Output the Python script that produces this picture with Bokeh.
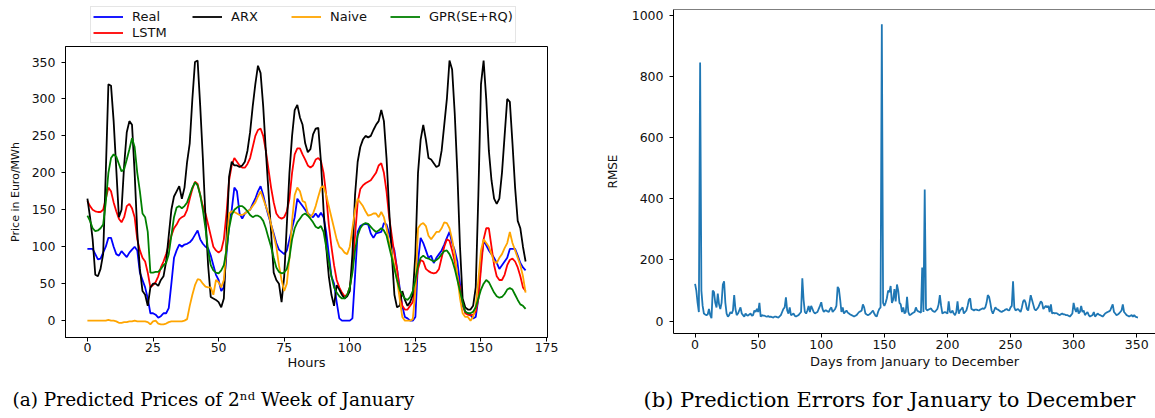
from bokeh.plotting import figure
from bokeh.models import Legend, LegendItem, Range1d, FixedTicker, Span, Label
from bokeh.layouts import row, column
from bokeh.embed import file_html
from bokeh.resources import INLINE

# ---------------- data: (a) hourly prices, 2nd week of January ----------------
hours = list(range(168))

real = [97, 97, 97, 90, 83, 84, 92, 100, 112, 112,
        100, 90, 88, 94, 90, 86, 92, 96, 100, 95,
        65, 55, 45, 30, 10, 10, 8, 4, 6, 10,
        10, 17, 50, 85, 95, 103, 100, 103, 104, 106,
        110, 116, 122, 110, 104, 100, 98, 88, 75, 62,
        55, 40, 45, 90, 130, 150, 180, 175, 145, 138,
        145, 148, 150, 158, 165, 175, 182, 170, 155, 142,
        130, 118, 105, 96, 93, 90, 95, 110, 125, 140,
        165, 160, 155, 150, 145, 142, 140, 145, 140, 146,
        140, 120, 90, 60, 50, 25, 3, 0, 0, 0,
        0, 3, 60, 120, 128, 130, 131, 130, 118, 112,
        118, 119, 120, 132, 130, 118, 105, 95, 70, 45,
        20, 5, 3, 0, 0, 5, 80, 112, 105, 95,
        85, 88, 78, 85, 90, 95, 103, 112, 120, 105,
        95, 80, 50, 20, 12, 10, 8, 3, 5, 30,
        80, 108, 102, 95, 90, 85, 78, 70, 75, 80,
        85, 97, 97, 97, 88, 78, 72, 68]

lstm = [162, 155, 150, 148, 147, 147, 150, 165, 180, 175,
        160, 148, 138, 133, 140, 155, 158, 152, 140, 110,
        95, 85, 80, 65, 45, 48, 52, 60, 72, 80,
        90, 102, 115, 125, 130, 137, 140, 142, 150, 165,
        178, 188, 185, 170, 155, 145, 130, 115, 100, 95,
        92, 95, 110, 145, 190, 210, 220, 215, 210, 207,
        207, 212, 220, 235, 250, 258, 260, 250, 230, 205,
        180, 160, 145, 140, 138, 140, 148, 165, 200, 225,
        233, 233, 225, 218, 210, 207, 210, 218, 220, 216,
        200, 170, 130, 100, 75, 55, 45, 38, 33, 35,
        45, 70, 115, 160, 178, 183, 186, 188, 190, 195,
        200, 210, 213, 200, 175, 140, 115, 90, 70, 40,
        20, 15, 15, 20, 25, 45, 70, 82, 80, 70,
        67, 65, 64, 65, 70, 85, 100, 110, 108, 95,
        80, 60, 45, 25, 10, 8, 7, 8, 12, 30,
        70, 110, 125, 125, 100, 75, 60, 55, 55, 62,
        75, 82, 84, 80, 72, 60, 45, 40]

arx = [165, 140, 110, 62, 60, 70, 90, 200, 320, 318,
       270, 205, 140, 150, 210, 255, 270, 265, 200, 120,
       70, 40, 35, 20, 45, 50, 50, 47, 55, 60,
       80, 115, 150, 168, 175, 182, 165, 180, 215, 240,
       300, 350, 352, 290, 220, 140, 75, 32, 30, 28,
       25, 18, 30, 110, 195, 215, 210, 210, 208, 210,
       215, 230, 255, 290, 320, 345, 335, 290, 230, 175,
       120, 65, 55, 50, 25, 60, 130, 200, 250, 285,
       292, 275, 265, 240, 228, 232, 252, 260, 261, 215,
       150, 100, 60, 35, 20, 48, 42, 35, 30, 33,
       40, 90, 170, 215, 235, 245, 250, 248, 250, 258,
       265, 270, 285, 270, 220, 150, 90, 35, 18, 20,
       40, 28, 20, 25, 35, 90, 200, 245, 265, 245,
       220, 218, 213, 208, 210, 230, 265, 300, 352, 340,
       280, 200, 100, 30, 18, 15, 15, 20, 45, 170,
       320, 352, 300, 230, 190, 165, 158, 165, 200, 250,
       300, 296, 240, 180, 135, 125, 100, 80]

naive = [0, 0, 0, 0, 0, 0, 0, 0, 1, 0,
         0, -1, -3, -3, -2, -2, -1, -1, 0, -1,
         -1, -1, -1, -2, -5, -1, 0, -4, -5, -5,
         -4, -2, -1, -1, -1, -1, -1, 0, 2, 20,
         35, 48, 56, 55, 50, 46, 45, 45, 35, 55,
         52, 45, 55, 100, 145, 148, 147, 145, 143, 143,
         145, 148, 150, 155, 160, 168, 175, 165, 155, 145,
         130, 115, 100, 75, 55, 40, 50, 85, 135, 170,
         180, 175, 162, 160, 145, 140, 145, 155, 168, 180,
         182, 170, 155, 140, 125, 110, 100, 97, 92, 90,
         100, 125, 150, 165, 160, 155, 148, 142, 143, 145,
         145, 140, 147, 140, 125, 105, 90, 75, 55, 30,
         5, 0, 0, 0, 2, 40, 125, 130, 132, 128,
         115, 110, 115, 120, 120, 125, 133, 132, 125, 110,
         90, 60, 30, 10, 5, 5, 0, 5, 20, 55,
         95, 110, 105, 100, 90, 80, 78, 85, 90, 98,
         105, 120, 105, 95, 85, 75, 60, 38]

gpr = [142, 135, 125, 121, 122, 125, 130, 160, 200, 220,
       225, 222, 212, 202, 205, 218, 232, 247, 235, 200,
       175, 145, 140, 120, 65, 65, 66, 66, 70, 75,
       78, 90, 115, 140, 153, 155, 152, 155, 160, 170,
       180, 187, 183, 170, 150, 125, 95, 75, 68, 65,
       64, 68, 75, 95, 125, 143, 150, 153, 155, 155,
       152, 148, 143, 140, 142, 142, 140, 135, 125, 112,
       100, 85, 72, 66, 64, 65, 70, 85, 110, 125,
       133, 138, 143, 145, 142, 138, 133, 127, 125, 128,
       120, 100, 80, 60, 45, 38, 33, 30, 30, 35,
       45, 65, 95, 115, 125, 130, 132, 131, 127, 123,
       120, 122, 125, 122, 115, 100, 85, 70, 55, 42,
       35, 30, 28, 32, 40, 55, 75, 85, 88, 85,
       84, 82, 80, 82, 85, 90, 94, 95, 90, 82,
       70, 55, 40, 25, 12, 10, 10, 12, 18, 30,
       42, 50, 55, 52, 45, 38, 33, 31, 32, 36,
       42, 44, 42, 35, 28, 22, 20, 16]

series_names = ["Real", "LSTM", "ARX", "Naive", "GPR(SE+RQ)"]

# ---------------- data: (b) daily RMSE, January to December ----------------
rmse = [122, 100, 60, 30, 845, 100, 50, 25, 22, 20,
        22, 40, 20, 10, 100, 95, 60, 45, 90, 55,
        40, 60, 120, 130, 60, 25, 15, 20, 30, 25,
        35, 85, 40, 20, 25, 35, 45, 25, 20, 15,
        25, 20, 18, 22, 25, 18, 20, 35, 30, 40,
        30, 60, 15, 20, 18, 18, 16, 15, 17, 14,
        15, 13, 12, 15, 15, 13, 12, 16, 20, 30,
        40, 45, 78, 35, 25, 45, 20, 22, 25, 18,
        15, 18, 20, 25, 30, 140, 70, 30, 25, 35,
        50, 30, 50, 40, 30, 25, 28, 30, 40, 50,
        62, 40, 30, 35, 35, 32, 30, 40, 45, 30,
        35, 40, 50, 112, 105, 70, 30, 45, 25, 30,
        35, 28, 25, 22, 20, 18, 15, 18, 20, 25,
        30, 32, 35, 55, 45, 25, 22, 20, 22, 25,
        30, 35, 25, 18, 15, 30, 40, 45, 970, 60,
        50, 60, 75, 100, 95, 115, 60, 70, 105, 65,
        120, 100, 60, 55, 30, 45, 25, 30, 80, 30,
        20, 22, 25, 28, 30, 45, 35, 32, 30, 28,
        175, 30, 430, 40, 35, 38, 40, 42, 35, 32,
        30, 35, 40, 55, 85, 50, 25, 28, 30, 28,
        25, 65, 30, 28, 35, 25, 20, 30, 65, 25,
        35, 40, 45, 25, 30, 35, 50, 70, 75, 40,
        38, 35, 38, 38, 36, 35, 38, 40, 42, 40,
        45, 60, 85, 80, 60, 35, 25, 35, 45, 40,
        38, 35, 32, 30, 33, 35, 38, 40, 36, 35,
        45, 50, 130, 45, 35, 38, 40, 35, 30, 45,
        65, 70, 60, 40, 35, 60, 85, 70, 55, 40,
        35, 40, 45, 55, 65, 60, 40, 45, 50, 45,
        50, 30, 55, 25, 28, 25, 27, 25, 22, 20,
        23, 25, 22, 22, 20, 20, 18, 15, 20, 25,
        60, 40, 30, 45, 25, 30, 50, 30, 35, 20,
        25, 30, 20, 15, 18, 20, 30, 15, 20, 25,
        22, 20, 18, 15, 20, 25, 28, 30, 32, 35,
        45, 55, 30, 25, 20, 22, 25, 30, 35, 55,
        30, 25, 20, 18, 15, 18, 20, 15, 20, 15,
        13, 12]
days = list(range(len(rmse)))

left_xticks = [0, 25, 50, 75, 100, 125, 150, 175]
left_yticks = [0, 50, 100, 150, 200, 250, 300, 350]
right_xticks = [0, 50, 100, 150, 200, 250, 300, 350]
right_yticks = [0, 200, 400, 600, 800, 1000]

caption_a = "(a) Predicted Prices of 2\u207f\u1d48 Week of January"
caption_b = "(b) Prediction Errors for January to December"

# ---------------- styling helpers ----------------
SANS = "DejaVu Sans"
SERIF = "DejaVu Serif"
TXT = "#111111"


def style_axes(p, tick_size="12.5px", label_size="13px"):
    for ax in (p.xaxis[0], p.yaxis[0]):
        ax.major_label_text_font = SANS
        ax.major_label_text_font_size = tick_size
        ax.major_label_text_color = TXT
        ax.axis_label_text_font = SANS
        ax.axis_label_text_font_size = label_size
        ax.axis_label_text_font_style = "normal"
        ax.axis_label_text_color = TXT
        ax.major_tick_in = 0
        ax.major_tick_out = 4
        ax.major_tick_line_color = "black"
        ax.minor_tick_line_color = None
        ax.axis_line_color = "black"
    p.xgrid.visible = False
    p.ygrid.visible = False
    p.background_fill_color = "white"
    p.border_fill_color = "white"


def blank_strip(width, height, **kw):
    f = figure(width=width, height=height, output_backend="svg", toolbar_location=None,
               x_axis_type=None, y_axis_type=None, **kw)
    f.outline_line_color = None
    f.xgrid.visible = False
    f.ygrid.visible = False
    f.background_fill_color = "white"
    f.border_fill_color = "white"
    return f


colors = ["blue", "red", "black", "orange", "green"]
all_series = [real, lstm, arx, naive, gpr]
LW = 1.8

# ---------------- legend strip above panel (a) ----------------
# the strip's ranges lie outside the data, so only the legend shows
leg_fig = blank_strip(580, 46, x_range=Range1d(0, 1), y_range=Range1d(1000, 1001),
                      min_border_left=65, min_border_right=33, min_border_top=0,
                      min_border_bottom=0)
leg_rends = {}
for name, ys, c in zip(series_names, all_series, colors):
    leg_rends[name] = leg_fig.line(hours, ys, line_color=c, line_width=LW)

legend_order = ["Real", "ARX", "Naive", "GPR(SE+RQ)", "LSTM"]
legend = Legend(items=[LegendItem(label=n, renderers=[leg_rends[n]]) for n in legend_order],
                orientation="horizontal", ncols=4, location=(25, 3),
                label_text_font=SANS, label_text_font_size="13px", label_text_color=TXT,
                glyph_width=30, glyph_height=15, label_height=15, label_width=59,
                label_standoff=9, spacing=1, padding=2, margin=0,
                border_line_color="#cccccc", border_line_width=1,
                background_fill_color="white", background_fill_alpha=0.8)
leg_fig.add_layout(legend, "center")

# ---------------- left figure (a) ----------------
left = figure(width=580, height=340, output_backend="svg", toolbar_location=None,
              x_range=Range1d(-8.35, 175.35), y_range=Range1d(-22.85, 371.0),
              min_border_left=65, min_border_right=33, min_border_top=0,
              min_border_bottom=49)
style_axes(left)
left.outline_line_color = "black"
left.outline_line_width = 1
left.xaxis[0].ticker = FixedTicker(ticks=left_xticks)
left.yaxis[0].ticker = FixedTicker(ticks=left_yticks)
left.xaxis[0].axis_label = "Hours"
left.yaxis[0].axis_label = "Price in Euro/MWh"
left.yaxis[0].axis_label_text_font_size = "11px"
left.xaxis[0].major_label_standoff = 1
left.xaxis[0].axis_label_standoff = 0
left.yaxis[0].major_label_standoff = 6
left.yaxis[0].axis_label_standoff = 7

for name, ys, c in zip(series_names, all_series, colors):
    left.line(hours, ys, line_color=c, line_width=LW)

# ---------------- right figure (b) ----------------
right = figure(width=575, height=386, output_backend="svg", toolbar_location=None,
               x_range=Range1d(-17.1, 364.9), y_range=Range1d(-40.2, 1018.6),
               min_border_left=93, min_border_right=0, min_border_top=9,
               min_border_bottom=53)
style_axes(right)
right.outline_line_color = None
right.xaxis[0].ticker = FixedTicker(ticks=right_xticks)
right.yaxis[0].ticker = FixedTicker(ticks=right_yticks)
right.xaxis[0].axis_label = "Days from January to December"
right.yaxis[0].axis_label = "RMSE"
right.yaxis[0].axis_label_text_font_size = "12px"
right.xaxis[0].major_label_standoff = 2
right.xaxis[0].axis_label_standoff = 2
right.yaxis[0].major_label_standoff = 6
right.yaxis[0].axis_label_standoff = 9
right.add_layout(Span(location=1018.6, dimension="width", line_color="black", line_width=1))

right.line(days, rmse, line_color="#1f77b4", line_width=LW)

# ---------------- caption strip (sub-figure captions) ----------------
cap_fig = blank_strip(1155, 32, x_range=Range1d(0, 1155), y_range=Range1d(0, 32),
                      min_border=0)
for txt, xpos, fsize in ((caption_a, 12, "18.5px"), (caption_b, 643, "21px")):
    cap_fig.add_layout(Label(x=xpos, y=19, text=txt, text_font=SERIF,
                             text_font_size=fsize, text_color="black",
                             text_align="left", text_baseline="middle"))

top = row(column(leg_fig, left, spacing=0), column(right, spacing=0), spacing=0)
layout = column(top, cap_fig, spacing=0)
open("out.html", "w").write(file_html(layout, INLINE))
